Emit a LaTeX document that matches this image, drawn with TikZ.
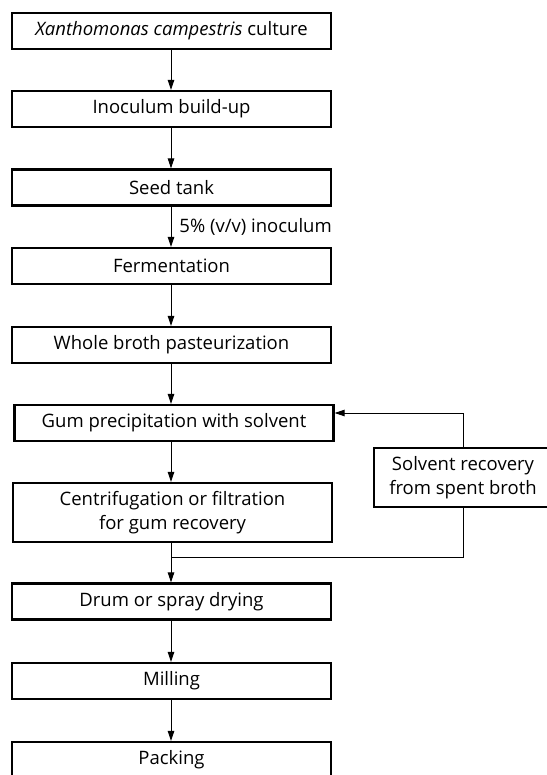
\documentclass[tikz,border=0pt]{standalone}
\usepackage{fontspec}
\setmainfont{Open Sans}
\usetikzlibrary{arrows.meta}
\begin{document}
\begin{tikzpicture}[x=1pt,y=-1pt,
  stepbox/.style={draw,line width=2.2pt,minimum width=319pt,minimum height=36pt,inner sep=0pt,font=\fontsize{18.5}{24}\selectfont,align=center},
  tallbox/.style={stepbox,minimum height=59pt},
  arr/.style={line width=0.9pt,-{Triangle[length=10pt,width=6.5pt]}},
  ln/.style={line width=0.9pt}]
\useasboundingbox (0,0) rectangle (546,775);
\node[stepbox] (b1) at (171.5,31) {\textit{Xanthomonas campestris} culture};
\node[stepbox] (b2) at (171.5,109) {Inoculum build-up};
\node[stepbox] (b3) at (171.5,187.5) {Seed tank};
\node[stepbox] (b4) at (171.5,266) {Fermentation};
\node[stepbox] (b5) at (171.5,345) {Whole broth pasteurization};
\node[stepbox] (b6) at (174,423) {Gum precipitation with solvent};
\node[tallbox] (b7) at (172.5,512.5) {Centrifugation or filtration\\for gum recovery};
\node[stepbox] (b8) at (171.5,601.5) {Drum or spray drying};
\node[stepbox] (b9) at (171.5,681) {Milling};
\node[stepbox] (b10) at (171.5,760) {Packing};
\node[stepbox,minimum width=178pt,minimum height=59pt] (sol) at (463,477.5) {Solvent recovery\\from spent broth};
\coordinate (merge) at (171,557);
\draw[arr] (b1.south -| 171,0) -- (b2.north -| 171,0);
\draw[arr] (b2.south -| 171,0) -- (b3.north -| 171,0);
\draw[arr] (b3.south -| 171,0) -- node[right,inner sep=0pt,xshift=8pt,font=\fontsize{18.5}{22}\selectfont] (lab) {5\% (v/v) inoculum} (b4.north -| 171,0);
\draw[arr] (b4.south -| 171,0) -- (b5.north -| 171,0);
\draw[arr] (b5.south -| 171,0) -- (b6.north -| 171,0);
\draw[arr] (b6.south -| 171,0) -- (b7.north -| 171,0);
\draw[arr] (b7.south -| 171,0) -- (b8.north -| 171,0);
\draw[arr] (b8.south -| 171,0) -- (b9.north -| 171,0);
\draw[arr] (b9.south -| 171,0) -- (b10.north -| 171,0);
\draw[arr] (sol.north) |- ([yshift=10pt]b6.east);
\draw[ln] (sol.south) |- (merge);
\end{tikzpicture}
\end{document}
